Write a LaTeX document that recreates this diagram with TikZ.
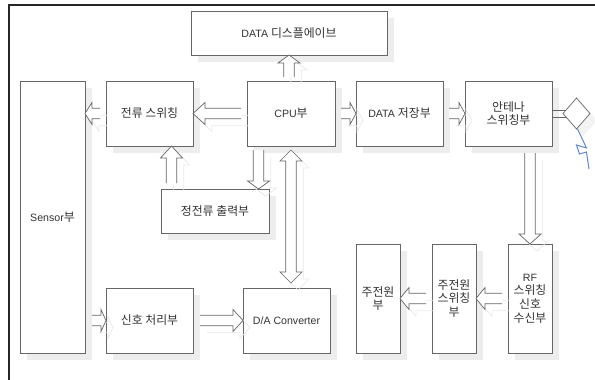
\documentclass[tikz,border=0pt]{standalone}
\usepackage{fontspec}
\setmainfont{Liberation Sans}
\newfontfamily\kr[Scale=1.12]{Noto Sans CJK KR}
\usetikzlibrary{shapes.geometric, positioning, calc, shadows}
\definecolor{linegray}{HTML}{666666}
\definecolor{shadowgray}{HTML}{E8E8E8}
\definecolor{textgray}{HTML}{333333}
\definecolor{boltblue}{HTML}{5F86D2}
% one-way block arrow: head length, start, tip
\newcommand{\blockarrow}[3][12pt]{%
  \coordinate (neck) at ($#3!#1!#2$);
  \foreach \look in {arrowshadow, blockline}
    \draw[\look] ($#2!5.3pt!90:#3$) -- ($(neck)!5.3pt!90:#3$) -- ($(neck)!11pt!90:#3$) -- #3
      -- ($(neck)!11pt!-90:#3$) -- ($(neck)!5.3pt!-90:#3$) -- ($#2!5.3pt!-90:#3$);}

\begin{document}
\begin{tikzpicture}[
  x=1pt, y=-1pt,
  box/.style={rectangle, draw=linegray, fill=white, line width=0.8pt, inner sep=0pt, outer sep=0pt, align=center, text=textgray, font=\fontsize{10.6}{13.7}\selectfont, drop shadow={shadow xshift=7pt, shadow yshift=-7pt, fill=shadowgray!80!white, opacity=1}},
  blockline/.style={draw=linegray, fill=white, line width=0.7pt},
  arrowshadow/.style={draw=shadowgray, line width=0.7pt, transform canvas={shift={(7pt,-7pt)}}},
  thinline/.style={draw=linegray, line width=1pt}
]
  \useasboundingbox (0,0) rectangle (595,380);

  % Frame
  \coordinate (framebl) at (9,380);
  \coordinate (frametl) at (9,5);
  \coordinate (frametr) at (595,5);
  \draw[line width=1.4pt, draw=black!85] (framebl) -- (frametl) -- (frametr);

  % Blocks
  \node[box, minimum width=196pt, minimum height=44pt] (display) at (289,33) {DATA {\kr 디스플에이브}};
  \node[box, minimum width=65pt, minimum height=272pt] (sensor) at (52.5,217) {Sensor{\kr 부}};
  \node[box, minimum width=87pt, minimum height=65pt] (switching) at (149.5,113.5) {\kr 전류 스위칭};
  \node[box, minimum width=88pt, minimum height=65pt] (cpu) at (291,113.5) {CPU{\kr 부}};
  \node[box, minimum width=87pt, minimum height=65pt] (storage) at (399.5,113.5) {DATA {\kr 저장부}};
  \node[box, minimum width=87pt, minimum height=65pt] (antenna) at (508.5,113.5) {\kr 안테나\\\kr 스위칭부};
  \node[box, minimum width=108pt, minimum height=44pt] (output) at (215,211) {\kr 정전류 출력부};
  \node[box, minimum width=87pt, minimum height=65pt] (signal) at (149.5,320.5) {\kr 신호 처리부};
  \node[box, minimum width=87pt, minimum height=65pt] (converter) at (286.5,320.5) {D/A Converter};
  \node[box, minimum width=44pt, minimum height=109pt] (mainpower) at (378,298.5) {\kr 주전원\\\kr 부};
  \node[box, minimum width=44pt, minimum height=109pt] (mainswitch) at (454,298.5) {\kr 주전원\\\kr 스위칭\\\kr 부};
  \node[box, minimum width=44pt, minimum height=109pt] (receiver) at (530,298.5) {RF\\\kr 스위칭\\\kr 신호\\\kr 수신부};
  \node[diamond, draw=linegray, fill=white, line width=0.7pt, inner sep=0pt, outer sep=0pt, minimum width=27pt, minimum height=31pt, shape aspect=0.87, drop shadow={shadow xshift=7pt, shadow yshift=-7pt, fill=shadowgray!50!white, opacity=1}] (aerial) at (576.5,113.5) {};

  % Block arrows
  \blockarrow{([xshift=-6pt]cpu.west)}{(switching.east)}
  \blockarrow[7pt]{([xshift=-6pt]switching.west)}{(sensor.east |- switching.west)}
  \blockarrow[8pt]{([xshift=-2pt,yshift=4pt]cpu.north)}{([xshift=0pt]display.south)}
  \blockarrow{([xshift=-43.5pt,yshift=6pt]output.north)}{([xshift=22pt]switching.south)}
  \blockarrow[8pt]{([xshift=-32.5pt,yshift=-4pt]cpu.south)}{([xshift=43.5pt]output.north)}
  \coordinate (cpubase) at ([yshift=-4pt]cpu.south);
  \coordinate (dabase) at ([xshift=4.5pt,yshift=5pt]converter.north);
  \coordinate (uphead) at ($(cpubase)!11pt!(dabase)$);
  \coordinate (downhead) at ($(dabase)!11pt!(cpubase)$);
  \foreach \look in {arrowshadow, blockline}
    \draw[\look] (cpubase) -- ($(uphead)!11pt!90:(dabase)$) -- ($(uphead)!5.3pt!90:(dabase)$) -- ($(downhead)!5.3pt!-90:(cpubase)$) -- ($(downhead)!11pt!-90:(cpubase)$) -- (dabase)
      -- ($(downhead)!11pt!90:(cpubase)$) -- ($(downhead)!5.3pt!90:(cpubase)$) -- ($(uphead)!5.3pt!-90:(dabase)$) -- ($(uphead)!11pt!-90:(dabase)$) -- cycle;
  \blockarrow[6pt]{([xshift=6pt]cpu.east)}{(storage.west)}
  \blockarrow[6pt]{([xshift=6pt]storage.east)}{(antenna.west)}
  \blockarrow[10pt]{([xshift=21.5pt,yshift=-7pt]antenna.south)}{(receiver.north)}
  \blockarrow[9pt]{([xshift=-6pt]receiver.west)}{(mainswitch.east)}
  \blockarrow[9pt]{([xshift=-6pt]mainswitch.west)}{(mainpower.east)}
  \blockarrow[5pt]{([xshift=7pt]sensor.east |- signal.east)}{(signal.west)}
  \blockarrow[10pt]{([xshift=7pt]signal.east)}{(converter.west)}

  % Feed and bolt
  \draw[thinline] ([yshift=3.5pt]antenna.east) -- ([yshift=3.5pt,xshift=3pt]aerial.west);
  \draw[thinline] ([yshift=-3.5pt]antenna.east) -- ([yshift=-3.5pt,xshift=3pt]aerial.west);
  \coordinate (boltend) at (589,169);
  \draw[boltblue, line width=1pt] ([xshift=1pt]aerial.south) -- ++(9,19) -- ++(-10,-3) -- ++(3,9) -- ++(7,-2) -- (boltend);
\end{tikzpicture}
\end{document}
